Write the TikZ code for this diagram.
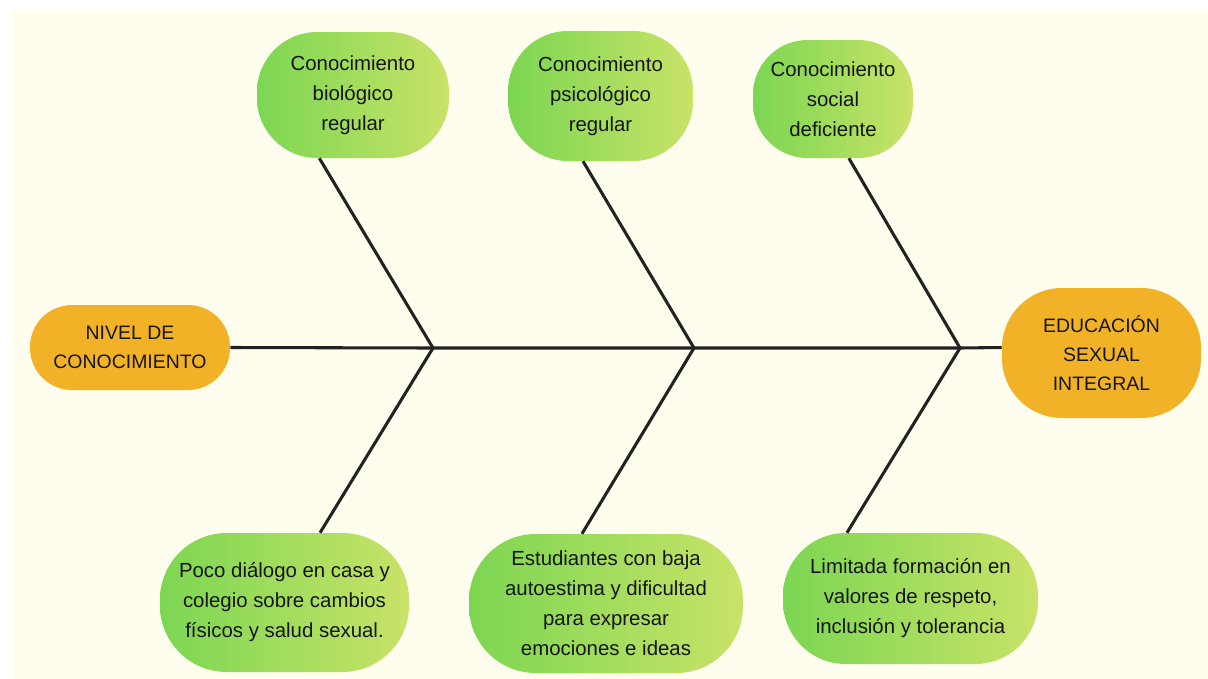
\documentclass[tikz,border=0pt]{standalone}
\usepackage{fontspec}
\setmainfont{Liberation Sans}

\begin{document}
\begin{tikzpicture}[x=0.75pt,y=0.75pt,yscale=-1,xscale=1,
  causa/.style={align=center,inner sep=0pt,
    left color={rgb, 255:red, 124; green, 214; blue, 82 },
    right color={rgb, 255:red, 200; green, 227; blue, 104 },
    text={rgb, 255:red, 22; green, 22; blue, 22 },
    font=\fontsize{15.3}{22.5}\selectfont},
  efecto/.style={align=center,inner sep=0pt,
    fill={rgb, 255:red, 242; green, 178; blue, 40 },
    text={rgb, 255:red, 22; green, 22; blue, 22 },
    font=\fontsize{14.6}{22}\selectfont},
  espina/.style={color={rgb, 255:red, 34; green, 34; blue, 34 },line width=2.3pt,line join=miter}]
%set diagram left start at 0, and has height of 679
\useasboundingbox (0,0) rectangle (1208,679);
\fill [color={rgb, 255:red, 255; green, 253; blue, 238 }] (10,10) rectangle (1208,679);

\draw (130,347.5) node [efecto,minimum width=150pt,minimum height=63.75pt,rounded corners=31.5pt] (nivel) {NIVEL DE\\CONOCIMIENTO};
\draw (1101.5,353) node [efecto,minimum width=149.25pt,minimum height=97.5pt,rounded corners=45pt] (esi) {EDUCACIÓN\\SEXUAL\\INTEGRAL};

\draw (353,95) node [causa,minimum width=144pt,minimum height=94.5pt,rounded corners=45pt] (bio) {Conocimiento\\biológico\\regular};
\draw (600.5,96) node [causa,minimum width=138.75pt,minimum height=97.5pt,rounded corners=45pt] (psico) {Conocimiento\\psicológico\\regular};
\draw (833,99) node [causa,minimum width=120pt,minimum height=88.5pt,rounded corners=41pt] (social) {Conocimiento\\social\\deficiente};
\draw (284.5,602.5) node [causa,minimum width=186.75pt,minimum height=104.25pt,rounded corners=50pt] (dialogo) {Poco diálogo en casa y\\colegio sobre cambios\\físicos y salud sexual.};
\draw (606,603.5) node [causa,minimum width=205.5pt,minimum height=104.25pt,rounded corners=50pt] (autoestima) {Estudiantes con baja\\autoestima y dificultad\\para expresar\\emociones e ideas};
\draw (910.5,598.5) node [causa,minimum width=191.25pt,minimum height=98.25pt,rounded corners=47pt] (valores) {Limitada formación en\\valores de respeto,\\inclusión y tolerancia};

\coordinate (j1) at (433,348);
\coordinate (j2) at (694,348);
\coordinate (j3) at (960,348);

\draw [espina] (nivel.east) -- (j1) -- (j2) -- (j3) -- (nivel.east -| esi.west);
\draw [espina] (bio.242) -- (j1) -- (dialogo.63);
\draw [espina] (psico.255) -- (j2) -- (autoestima.109);
\draw [espina] (social.285) -- (j3) -- (valores.134);

\end{tikzpicture}
\end{document}
